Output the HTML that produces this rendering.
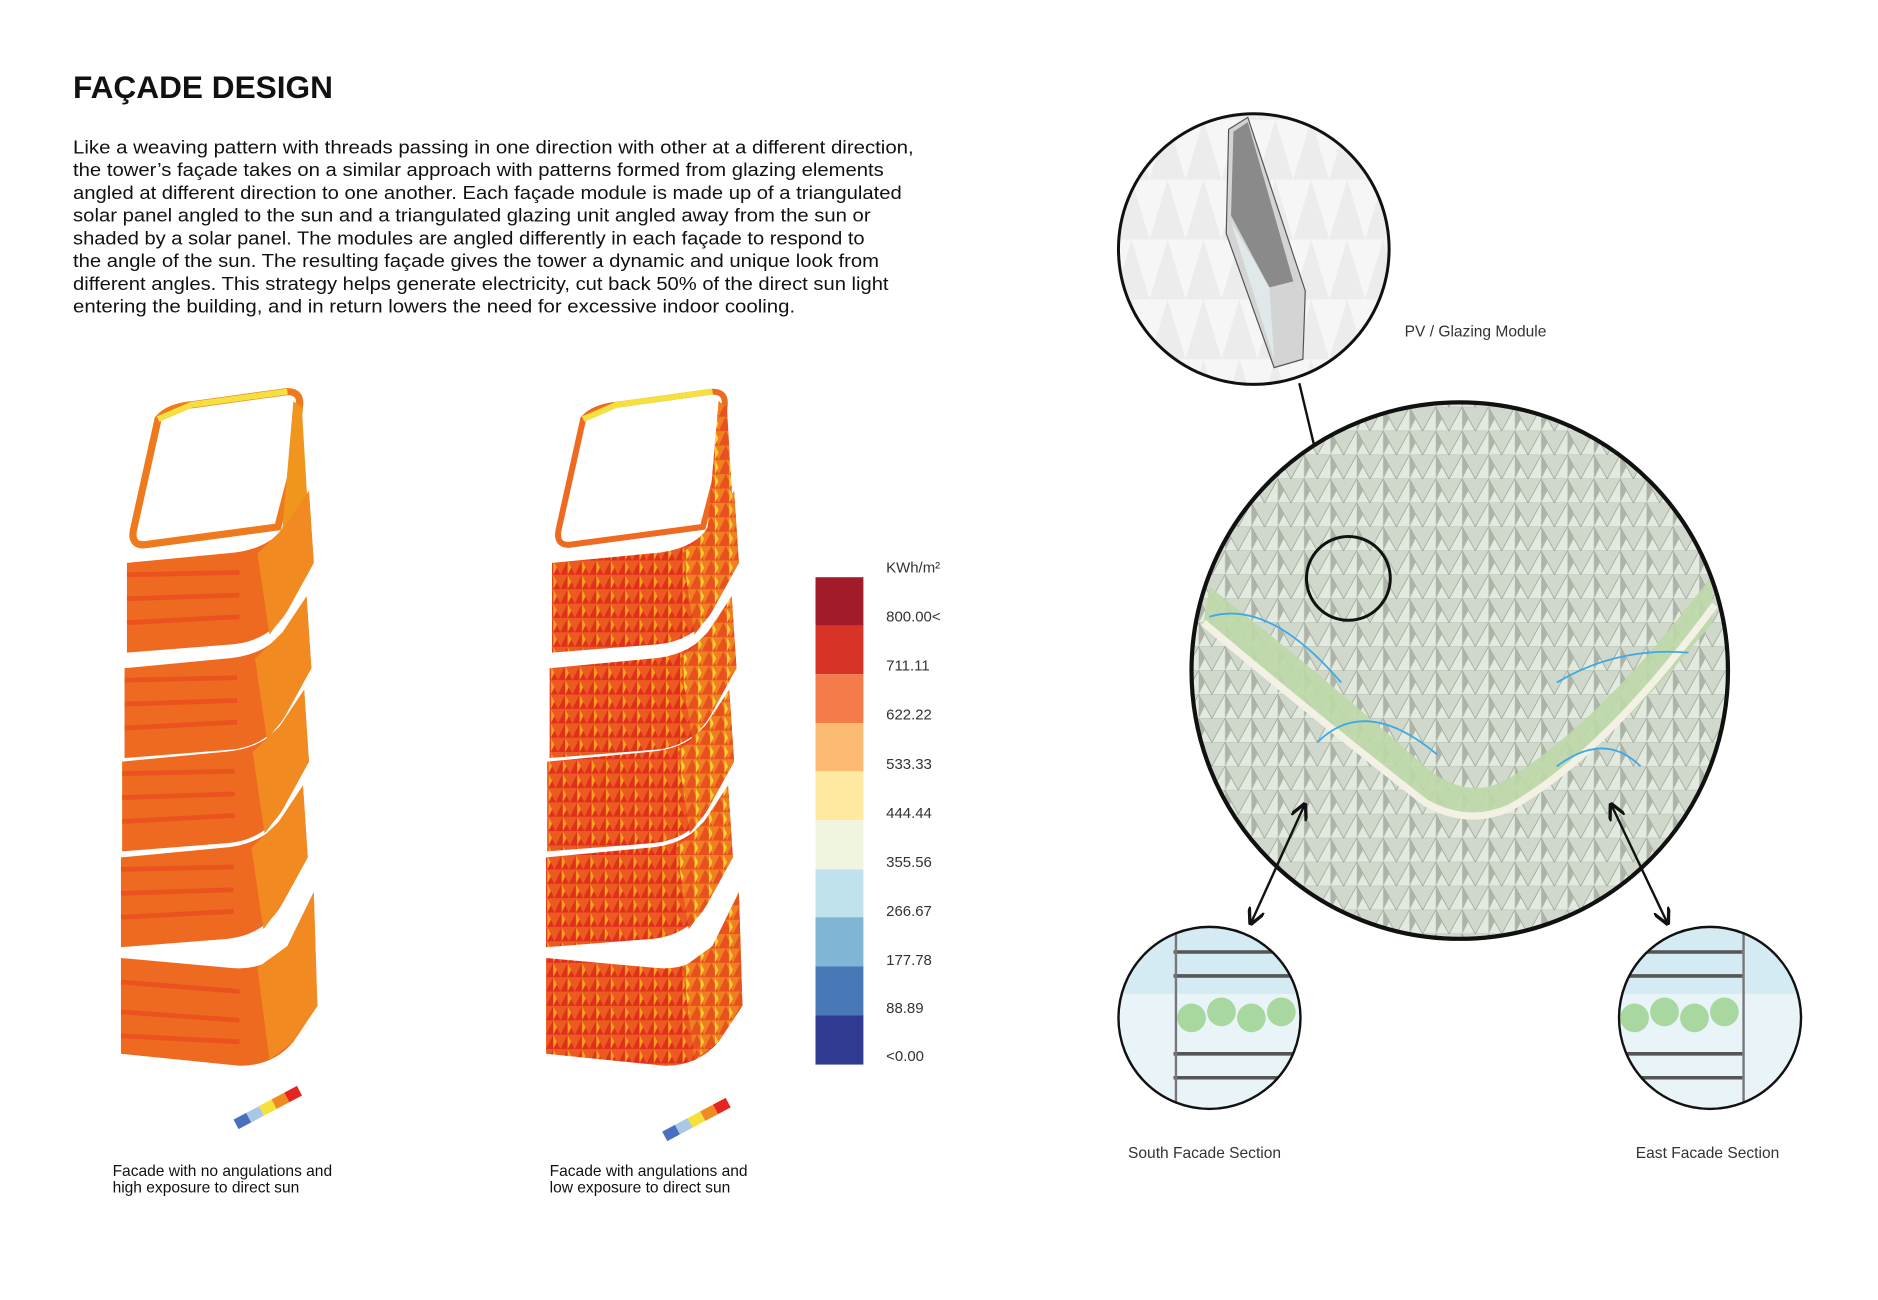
<!DOCTYPE html>
<html><head><meta charset="utf-8"><style>
html,body{margin:0;padding:0;background:#fff;width:1878px;height:1300px;overflow:hidden}
svg{display:block}
text{font-family:"Liberation Sans",sans-serif}
</style></head><body>
<svg width="1878" height="1300" viewBox="0 0 1878 1300" xmlns="http://www.w3.org/2000/svg">
<defs>
<pattern id="tri" width="12" height="12" patternUnits="userSpaceOnUse">
<rect width="12" height="12" fill="#ec5a22"/>
<path d="M0 12 L6 0 L12 12Z" fill="#e0301c"/>
<path d="M6 0 L9 6 L6 12Z" fill="#f6a21e"/>
</pattern>
<pattern id="tri2" width="12" height="12" patternUnits="userSpaceOnUse">
<rect width="12" height="12" fill="#f07f22"/>
<path d="M0 12 L6 0 L12 12Z" fill="#e8501e"/>
<path d="M9 0 L12 6 L9 12Z" fill="#f8d030"/>
</pattern>
<pattern id="fac" width="22" height="20" patternUnits="userSpaceOnUse">
<rect width="22" height="20" fill="#cfd8cb"/>
<path d="M0 20 L11 0 L22 20Z" fill="#e2e9df" stroke="#8c9388" stroke-width="0.5"/>
<path d="M11 0 L16 10 L11 20Z" fill="#adb3a7"/>
</pattern>
<pattern id="mod" width="30" height="50" patternUnits="userSpaceOnUse">
<rect width="30" height="50" fill="#f6f6f6"/>
<path d="M0 50 L15 0 L30 50Z" fill="#ececec"/>
</pattern>
<clipPath id="bc"><circle cx="1219" cy="560" r="224"/></clipPath>
<clipPath id="tc"><circle cx="1047" cy="208" r="113"/></clipPath>
<clipPath id="s1"><circle cx="1010" cy="850" r="76"/></clipPath>
<clipPath id="s2"><circle cx="1428" cy="850" r="76"/></clipPath>
<marker id="ah" viewBox="0 0 10 10" refX="8" refY="5" markerWidth="7" markerHeight="7" orient="auto-start-reverse"><path d="M0 0 L10 5 L0 10" fill="none" stroke="#111" stroke-width="2"/></marker>
</defs>
<g transform="scale(1.1975)">
<text x="61" y="82" font-size="26" font-weight="bold" textLength="217" lengthAdjust="spacingAndGlyphs" fill="#111">FAÇADE DESIGN</text>
<g font-size="15.5" fill="#111">
<text x="61" y="128" textLength="702" lengthAdjust="spacingAndGlyphs">Like a weaving pattern with threads passing in one direction with other at a different direction,</text>
<text x="61" y="147" textLength="677" lengthAdjust="spacingAndGlyphs">the tower’s façade takes on a similar approach with patterns formed from glazing elements</text>
<text x="61" y="166" textLength="692" lengthAdjust="spacingAndGlyphs">angled at different direction to one another. Each façade module is made up of a triangulated</text>
<text x="61" y="185" textLength="666" lengthAdjust="spacingAndGlyphs">solar panel angled to the sun and a triangulated glazing unit angled away from the sun or</text>
<text x="61" y="204" textLength="661" lengthAdjust="spacingAndGlyphs">shaded by a solar panel. The modules are angled differently in each façade to respond to</text>
<text x="61" y="223" textLength="673" lengthAdjust="spacingAndGlyphs">the angle of the sun. The resulting façade gives the tower a dynamic and unique look from</text>
<text x="61" y="242" textLength="681" lengthAdjust="spacingAndGlyphs">different angles. This strategy helps generate electricity, cut back 50% of the direct sun light</text>
<text x="61" y="261" textLength="603" lengthAdjust="spacingAndGlyphs">entering the building, and in return lowers the need for excessive indoor cooling.</text>
</g>

<!-- Left tower -->
<g>
<path d="M132 350 Q140 340 160 338 L240 327 Q252 327 250 340 L245 390 L232 440 L120 455 Q108 455 112 440 Z" fill="none" stroke="#ef7a1e" stroke-width="6"/>
<path d="M132 350 L160 338 L240 327" fill="none" stroke="#f4e040" stroke-width="5"/>
<path d="M245 335 L252 340 L258 440 L240 470 L218 470 L236 440 Z" fill="#f0961e"/>
<g id="blkL">
<path d="M106 470 L190 462 Q222 460 238 440 L258 410 L262 470 L240 510 Q225 535 195 538 L106 545 Z" fill="#ee6a20"/>
<path d="M106 480 L200 478 M106 500 L200 497 M106 520 L200 515" stroke="#e8441c" stroke-width="4" opacity="0.6"/>
<path d="M215 462 L238 440 L258 410 L262 470 L240 510 L225 530Z" fill="#f28a22"/>
</g>
<use href="#blkL" transform="translate(-2,88)"/>
<use href="#blkL" transform="translate(-4,166)"/>
<use href="#blkL" transform="translate(-5,246)"/>
<path d="M101 800 L190 808 Q222 812 240 790 L262 745 L265 840 L245 870 Q228 890 200 890 L101 880 Z" fill="#ee6a20"/>
<path d="M215 808 L240 790 L262 745 L265 840 L245 870 L225 885Z" fill="#f28a22"/>
<path d="M101 820 L200 828 M101 845 L200 852 M101 865 L200 870" stroke="#e8441c" stroke-width="4" opacity="0.6"/>
<g transform="translate(195,935) rotate(-28)"><rect x="0" y="0" width="12" height="9" fill="#4a6fbf"/><rect x="12" y="0" width="12" height="9" fill="#a9c7e6"/><rect x="24" y="0" width="12" height="9" fill="#f5e13a"/><rect x="36" y="0" width="12" height="9" fill="#f08a22"/><rect x="48" y="0" width="12" height="9" fill="#e4261f"/></g>
</g>

<!-- Right tower -->
<g>
<path d="M487 350 Q495 340 515 338 L595 327 Q607 327 605 340 L600 390 L587 440 L475 455 Q463 455 467 440 Z" fill="none" stroke="#ee6a20" stroke-width="5"/>
<path d="M487 350 L515 338 L595 327" fill="none" stroke="#f4e040" stroke-width="5"/>
<path d="M600 335 L607 340 L613 440 L595 470 L573 470 L591 440 Z" fill="url(#tri2)"/>
<g id="blkR">
<path d="M461 470 L545 462 Q577 460 593 440 L613 410 L617 470 L595 510 Q580 535 550 538 L461 545 Z" fill="url(#tri)"/>
<path d="M570 462 L593 440 L613 410 L617 470 L595 510 L580 530Z" fill="url(#tri2)"/>
</g>
<use href="#blkR" transform="translate(-2,88)"/>
<use href="#blkR" transform="translate(-4,166)"/>
<use href="#blkR" transform="translate(-5,246)"/>
<path d="M456 800 L545 808 Q577 812 595 790 L617 745 L620 840 L600 870 Q583 890 555 890 L456 880 Z" fill="url(#tri)"/>
<path d="M570 808 L595 790 L617 745 L620 840 L600 870 L580 885Z" fill="url(#tri2)"/>
<g transform="translate(553,945) rotate(-28)"><rect x="0" y="0" width="12" height="9" fill="#4a6fbf"/><rect x="12" y="0" width="12" height="9" fill="#a9c7e6"/><rect x="24" y="0" width="12" height="9" fill="#f5e13a"/><rect x="36" y="0" width="12" height="9" fill="#f08a22"/><rect x="48" y="0" width="12" height="9" fill="#e4261f"/></g>
</g>

<g font-size="13" fill="#111">
<text x="94" y="982">Facade with no angulations and</text>
<text x="94" y="996">high exposure to direct sun</text>
<text x="459" y="982">Facade with angulations and</text>
<text x="459" y="996">low exposure to direct sun</text>
</g>

<!-- Colorbar -->
<rect x="681" y="482" width="40" height="41" fill="#a11b2b"/>
<rect x="681" y="522" width="40" height="41" fill="#d73327"/>
<rect x="681" y="563" width="40" height="41" fill="#f47b4a"/>
<rect x="681" y="604" width="40" height="41" fill="#fcbb72"/>
<rect x="681" y="644" width="40" height="41" fill="#fde9a0"/>
<rect x="681" y="685" width="40" height="41" fill="#eff5e0"/>
<rect x="681" y="726" width="40" height="41" fill="#bfe2ec"/>
<rect x="681" y="766" width="40" height="41" fill="#80b5d6"/>
<rect x="681" y="807" width="40" height="41" fill="#4878b8"/>
<rect x="681" y="848" width="40" height="41" fill="#2f3a92"/>
<g font-size="12.5" fill="#333">
<text x="740" y="478">KWh/m²</text>
<text x="740" y="519">800.00&lt;</text>
<text x="740" y="560">711.11</text>
<text x="740" y="601">622.22</text>
<text x="740" y="642">533.33</text>
<text x="740" y="683">444.44</text>
<text x="740" y="724">355.56</text>
<text x="740" y="765">266.67</text>
<text x="740" y="806">177.78</text>
<text x="740" y="846">88.89</text>
<text x="740" y="886">&lt;0.00</text>
</g>

<!-- Top circle module -->
<g clip-path="url(#tc)"><rect x="930" y="90" width="240" height="240" fill="url(#mod)"/></g>
<path d="M1026 108 L1042 98 L1090 243 L1088 300 L1064 307 L1024 195 Z" fill="#d4d4d4" stroke="#555" stroke-width="1"/>
<path d="M1030 110 L1042 102 L1080 235 L1060 240 L1028 180Z" fill="#8a8a8a"/>
<path d="M1028 185 L1060 240 L1064 300Z" fill="#dfe9ea"/>
<circle cx="1047" cy="208" r="113" fill="none" stroke="#111" stroke-width="2.5"/>
<text x="1173" y="281" font-size="13" fill="#333">PV / Glazing Module</text>
<line x1="1085" y1="320" x2="1116" y2="450" stroke="#111" stroke-width="2"/>

<!-- Big circle -->
<g clip-path="url(#bc)">
<rect x="990" y="330" width="460" height="460" fill="url(#fac)"/>
<path d="M1010 490 Q1100 560 1190 640 Q1225 670 1260 650 Q1340 600 1430 480 L1430 520 Q1340 630 1260 675 Q1225 690 1190 670 Q1100 600 1005 520Z" fill="#bcd8a8" opacity="0.9"/>
<path d="M1005 520 Q1100 600 1190 670 Q1225 690 1260 675 Q1340 630 1432 505" fill="none" stroke="#f3f1e4" stroke-width="6"/>
<path d="M1010 515 Q1060 500 1120 570 M1100 620 Q1140 580 1200 630 M1300 640 Q1340 610 1370 640 M1300 570 Q1350 540 1410 545" fill="none" stroke="#3ea9e6" stroke-width="1.5"/>
</g>
<circle cx="1219" cy="560" r="224" fill="none" stroke="#111" stroke-width="3.5"/>
<circle cx="1126" cy="483" r="35" fill="none" stroke="#111" stroke-width="2.5"/>
<line x1="1089" y1="673" x2="1045" y2="770" stroke="#111" stroke-width="2" marker-start="url(#ah)" marker-end="url(#ah)"/>
<line x1="1346" y1="673" x2="1392" y2="770" stroke="#111" stroke-width="2" marker-start="url(#ah)" marker-end="url(#ah)"/>

<!-- Section circles -->
<g clip-path="url(#s1)">
<rect x="930" y="770" width="160" height="160" fill="#e9f4f8"/>
<rect x="930" y="770" width="160" height="60" fill="#d5ebf3"/>
<g fill="#a8d8a0"><circle cx="995" cy="850" r="12"/><circle cx="1020" cy="845" r="12"/><circle cx="1045" cy="850" r="12"/><circle cx="1070" cy="845" r="12"/></g>
<g stroke="#555" stroke-width="3"><line x1="980" y1="795" x2="1090" y2="795"/><line x1="980" y1="815" x2="1090" y2="815"/><line x1="980" y1="880" x2="1090" y2="880"/><line x1="980" y1="900" x2="1090" y2="900"/></g>
<line x1="982" y1="770" x2="982" y2="930" stroke="#777" stroke-width="2"/>
</g>
<circle cx="1010" cy="850" r="76" fill="none" stroke="#111" stroke-width="2"/>
<g clip-path="url(#s2)">
<rect x="1350" y="770" width="160" height="160" fill="#e9f4f8"/>
<rect x="1350" y="770" width="160" height="60" fill="#d5ebf3"/>
<g fill="#a8d8a0"><circle cx="1365" cy="850" r="12"/><circle cx="1390" cy="845" r="12"/><circle cx="1415" cy="850" r="12"/><circle cx="1440" cy="845" r="12"/></g>
<g stroke="#555" stroke-width="3"><line x1="1350" y1="795" x2="1455" y2="795"/><line x1="1350" y1="815" x2="1455" y2="815"/><line x1="1350" y1="880" x2="1455" y2="880"/><line x1="1350" y1="900" x2="1455" y2="900"/></g>
<line x1="1456" y1="770" x2="1456" y2="930" stroke="#777" stroke-width="2"/>
</g>
<circle cx="1428" cy="850" r="76" fill="none" stroke="#111" stroke-width="2"/>
<text x="942" y="967" font-size="13" fill="#333">South Facade Section</text>
<text x="1366" y="967" font-size="13" fill="#333">East Facade Section</text>
</g>
</svg>
</body></html>
